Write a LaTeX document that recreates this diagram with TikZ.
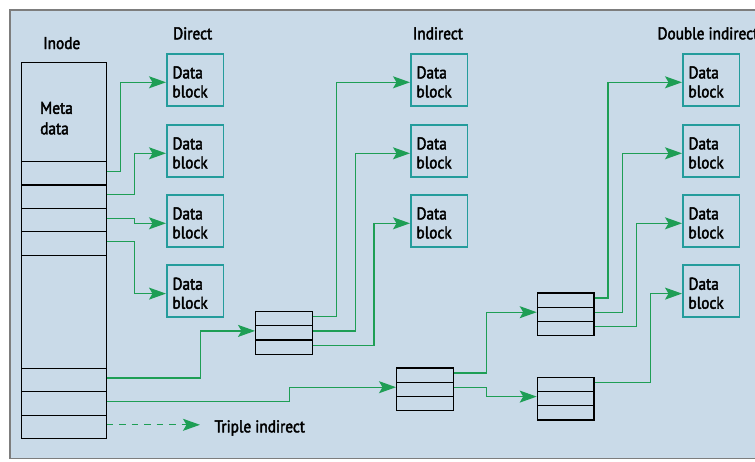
\documentclass[tikz,border=0pt]{standalone}
\usepackage{fontspec}
\setmainfont[FakeStretch=0.9,FakeBold=2.5]{PT Sans}
\usetikzlibrary{arrows.meta}

\definecolor{panelfill}{RGB}{201,218,232}
\definecolor{panelrule}{RGB}{125,125,125}
\definecolor{blockedge}{RGB}{36,156,156}
\definecolor{ptrgreen}{RGB}{30,158,85}

\newcommand{\lblfont}{\fontsize{17}{19}\selectfont}

\tikzset{
  inodecell/.style={draw=black, line width=1.2pt, minimum width=84.5pt,
    minimum height=23.4pt, anchor=north west, inner sep=0pt},
  ptrcell/.style={draw=black, line width=1.2pt, minimum width=56.7pt,
    minimum height=14.2pt, anchor=north west, inner sep=0pt},
  datablock/.style={draw=blockedge, line width=1.6pt, minimum width=56.7pt,
    minimum height=52pt, anchor=north west, inner sep=0pt, text width=45.3pt,
    align=left, font=\lblfont, node contents={\rule{0pt}{16.4pt}Data\\block}},
  heading/.style={anchor=base west, inner sep=0pt, font=\lblfont},
  ptr/.style={draw=ptrgreen, line width=1.2pt,
    -{Stealth[length=17pt,width=12pt,inset=3.5pt]}},
}

\begin{document}
\begin{tikzpicture}[x=1pt,y=-1pt]
  % page extent and panel
  \useasboundingbox (0,0) rectangle (755,461);
  \fill[white] (0,0) rectangle (755,461);
  \draw[panelrule, fill=panelfill, line width=1.5pt] (10,10) rectangle (775,458.5);

  % column headings
  \node[heading] (hinode)  at (43,49)     {Inode};
  \node[heading] (hdirect) at (173,39.3)  {Direct};
  \node[heading] (hind)    at (412.7,39.3) {Indirect};
  \node[heading] (hdouble) at (657.3,39.3) {Double indirect};

  % inode with its metadata and pointer slots
  \node[draw=black, line width=1.2pt, minimum width=84.5pt, minimum height=375.9pt,
        anchor=north west, inner sep=0pt] (inode) at (21,62) {};
  \node[anchor=north west, inner sep=0pt, align=left,
        font=\fontsize{17}{20.5}\selectfont] (meta) at (40,101.7) {Meta\\data};
  \node[inodecell] (c1) at (21,161)   {};
  \node[inodecell] (c2) at (21,184.4) {};
  \node[inodecell] (c3) at (21,207.8) {};
  \node[inodecell] (c4) at (21,231.2) {};
  \node[inodecell] (c5) at (21,367.7) {};
  \node[inodecell] (c6) at (21,391.1) {};
  \node[inodecell] (c7) at (21,414.5) {};

  % data blocks: direct, indirect, double indirect columns
  \node (D1) at (166,53)    [datablock];
  \node (D2) at (166,124)   [datablock];
  \node (D3) at (166,194)   [datablock];
  \node (D4) at (166,264.3) [datablock];
  \node (I1) at (410,53)    [datablock];
  \node (I2) at (410,124)   [datablock];
  \node (I3) at (410,194)   [datablock];
  \node (E1) at (682,53)    [datablock];
  \node (E2) at (682,124)   [datablock];
  \node (E3) at (682,194)   [datablock];
  \node (E4) at (682,264.3) [datablock];

  % single indirect pointer block
  \node[ptrcell] (s1) at (255,311)   {};
  \node[ptrcell] (s2) at (255,325.2) {};
  \node[ptrcell] (s3) at (255,339.4) {};
  % double indirect: first level
  \node[ptrcell] (d1) at (396,367.3) {};
  \node[ptrcell] (d2) at (396,381.5) {};
  \node[ptrcell] (d3) at (396,395.7) {};
  % double indirect: second level
  \node[ptrcell] (a1) at (536.7,292.3) {};
  \node[ptrcell] (a2) at (536.7,306.5) {};
  \node[ptrcell] (a3) at (536.7,320.7) {};
  \node[ptrcell] (b1) at (536.7,376.7) {};
  \node[ptrcell] (b2) at (536.7,390.9) {};
  \node[ptrcell] (b3) at (536.7,405.1) {};

  % direct pointers
  \draw[ptr] ([yshift=2pt]c1.east) -- ++(13.8,0) |- ([yshift=-2.5pt]D1.west);
  \draw[ptr] ([yshift=2pt]c2.east) -- ++(27.8,0) |- ([yshift=-2.5pt]D2.west);
  \draw[ptr] ([yshift=2pt]c3.east) -- ++(27.8,0) |- ([yshift=-2.5pt]D3.west);
  \draw[ptr] ([yshift=2pt]c4.east) -- ++(27.8,0) |- ([yshift=-2.5pt]D4.west);

  % single indirect
  \draw[ptr] ([yshift=2pt]c5.east) -- ++(93.8,0) |- ([yshift=2pt]s2.west);
  \draw[ptr] ([yshift=2pt]s1.east) -- ++(23.6,0) |- ([yshift=-2.5pt]I1.west);
  \draw[ptr] ([yshift=2pt]s2.east) -- ++(42.3,0) |- ([yshift=-2.5pt]I2.west);
  \draw[ptr] ([yshift=2pt]s3.east) -- ++(61,0)   |- ([yshift=-2.5pt]I3.west);

  % double indirect
  \draw[ptr] ([yshift=2pt]c6.east) -- ++(182.8,0) |- ([yshift=2pt]d2.west);
  \draw[ptr] ([yshift=2pt]d1.east) -- ++(32.3,0) |- ([yshift=2pt]a2.west);
  \draw[ptr] ([yshift=2pt]d2.east) -- ++(32.3,0) |- ([yshift=2pt]b2.west);
  \draw[ptr] ([yshift=2pt]a1.east) -- ++(13.3,0) |- ([yshift=-2.5pt]E1.west);
  \draw[ptr] ([yshift=2pt]a2.east) -- ++(27.6,0) |- ([yshift=-2.5pt]E2.west);
  \draw[ptr] ([yshift=2pt]a3.east) -- ++(41.6,0) |- ([yshift=-2.5pt]E3.west);
  \draw[ptr] ([yshift=2pt]b1.east) -- ++(55.6,0) |- ([yshift=-2.5pt]E4.west);

  % triple indirect (not expanded)
  \node[heading] (triple) at (214.3,432.3) {Triple indirect};
  \coordinate (tripletip) at (200,0);
  \draw[ptr, dash pattern=on 6.5pt off 6pt]
    ([yshift=2pt]c7.east) -- ([yshift=2pt]c7.east -| tripletip);
\end{tikzpicture}
\end{document}
